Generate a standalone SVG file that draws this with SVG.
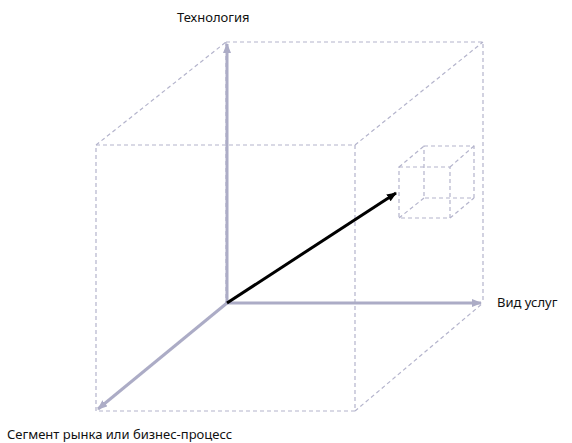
<svg xmlns="http://www.w3.org/2000/svg" width="572" height="443" viewBox="0 0 572 443">
<style>
.d{fill:none;stroke:#b4b4cc;stroke-width:1.2;stroke-dasharray:4,3}
.ax{fill:none;stroke:#acacc6;stroke-width:3}
.t{font-family:"Noto Sans",sans-serif;font-size:13px;fill:#111}
</style>
<defs>
<marker id="ga" markerWidth="10" markerHeight="8" refX="9" refY="4" orient="auto" markerUnits="userSpaceOnUse"><path d="M0,0 L10,4 L0,8 Z" fill="#acacc6"/></marker>
<marker id="ba" markerWidth="10" markerHeight="8" refX="9" refY="4" orient="auto" markerUnits="userSpaceOnUse"><path d="M0,0 L10,4 L0,8 Z" fill="#000"/></marker>
</defs>
<g id="cube">
<rect class="d" x="96" y="145" width="259" height="266"/>
<path class="d" d="M226,42 H483 V303 M96,145 L226,42 M355,145 L483,42 M355,411 L483,303 M226,42 V303"/>
</g>
<g id="small-cube">
<rect class="d" x="399" y="167" width="51" height="51"/>
<rect class="d" x="424" y="146" width="50" height="52"/>
<path class="d" d="M399,167 L424,146 M450,167 L474,146 M450,218 L474,198 M399,218 L424,198"/>
</g>
<g id="connectors">
<line class="ax" x1="227" y1="303" x2="227" y2="44" marker-end="url(#ga)"/>
<line class="ax" x1="227" y1="303" x2="481" y2="303" marker-end="url(#ga)"/>
<line class="ax" x1="227" y1="303" x2="98" y2="409" marker-end="url(#ga)"/>
<line x1="227" y1="303" x2="396" y2="193" stroke="#000" stroke-width="3" marker-end="url(#ba)"/>
</g>
<g id="labels">
<text class="t" x="177" y="22">Технология</text>
<text class="t" x="497" y="307">Вид услуг</text>
<text class="t" x="7" y="439">Сегмент рынка или бизнес-процесс</text>
</g>
</svg>
